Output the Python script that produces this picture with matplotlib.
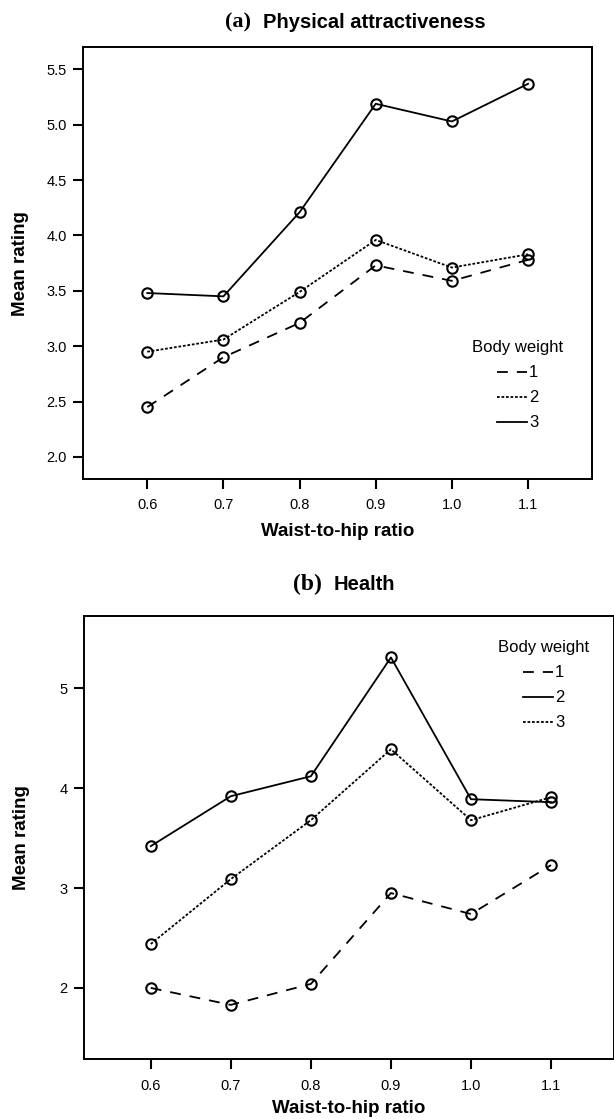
import matplotlib
matplotlib.use("Agg")
import matplotlib.pyplot as plt
from matplotlib.lines import Line2D

plt.rcParams['font.family'] = ['Liberation Sans', 'DejaVu Sans']

whr = [0.6, 0.7, 0.8, 0.9, 1.0, 1.1]
whr_labels = ["0.6", "0.7", "0.8", "0.9", "1.0", "1.1"]

# (a) Physical attractiveness
attr_bw1 = [2.45, 2.90, 3.21, 3.73, 3.59, 3.78]
attr_bw2 = [2.95, 3.06, 3.49, 3.96, 3.71, 3.83]
attr_bw3 = [3.48, 3.45, 4.21, 5.19, 5.03, 5.37]
attr_yticks = [2.0, 2.5, 3.0, 3.5, 4.0, 4.5, 5.0, 5.5]

# (b) Health
health_bw1 = [2.00, 1.83, 2.04, 2.95, 2.74, 3.23]
health_bw2 = [3.42, 3.92, 4.12, 5.31, 3.89, 3.86]
health_bw3 = [2.44, 3.09, 3.68, 4.39, 3.68, 3.91]
health_yticks = [2, 3, 4, 5]

W, H = 614, 1119
fig = plt.figure(figsize=(W / 100, H / 100), dpi=100)

def box(l, t, r, b):
    return [l / W, 1 - b / H, (r - l) / W, (b - t) / H]

ax1 = fig.add_axes(box(83.3, 47.3, 592, 479))
ax2 = fig.add_axes(box(84.3, 616, 613.5, 1059.3))

LW = 1.3
styles = {
    'dash': dict(linestyle=(0, (6, 5)), color='black', linewidth=LW),
    'dot': dict(linestyle=(0, (1.5, 1.0)), color='black', linewidth=LW),
    'solid': dict(linestyle='-', color='black', linewidth=LW),
}
mk = dict(marker='o', markersize=7.5, markerfacecolor='none',
          markeredgecolor='black', markeredgewidth=1.5)

def style_axes(ax, yticks, ylabels, ylim, xlim, ylab_x, xlab_y):
    ax.set_xlim(*xlim)
    ax.set_ylim(*ylim)
    ax.set_xticks(whr)
    ax.set_xticklabels(whr_labels)
    ax.set_yticks(yticks)
    ax.set_yticklabels(ylabels)
    ax.tick_params(direction='out', length=7, width=1.5, labelsize=10.5)
    ax.tick_params(axis='x', pad=7)
    ax.tick_params(axis='y', pad=5)
    for s in ax.spines.values():
        s.set_linewidth(1.4)
    ax.set_ylabel("Mean rating", fontsize=13.5, fontweight='bold')
    ax.set_xlabel("Waist-to-hip ratio", fontsize=13.5, fontweight='bold')
    ax.yaxis.set_label_coords(ylab_x, 0.5)
    ax.xaxis.set_label_coords(0.5, xlab_y)

def leg_handles(kinds):
    return [Line2D([], [], **styles[k]) for k in kinds]

leg_kw = dict(title="Body weight", frameon=False, fontsize=12,
              title_fontsize=12, handlelength=1.75, handletextpad=0.15,
              labelspacing=0.6, borderpad=0, loc='upper left')

# Panel (a)
ax1.plot(whr, attr_bw1, **styles['dash'], **mk)
ax1.plot(whr, attr_bw2, **styles['dot'], **mk)
ax1.plot(whr, attr_bw3, **styles['solid'], **mk)
style_axes(ax1, attr_yticks, [f"{v:.1f}" for v in attr_yticks], (1.8, 5.7),
           (0.516, 1.184), -0.107, -0.102)
leg1 = ax1.legend(leg_handles(['dash', 'dot', 'solid']), ["1", "2", "3"],
                  bbox_to_anchor=((464 - 83.3) / 508.7, (479 - 332) / 431.7),
                  **leg_kw)
leg1._legend_box.align = "center"

# Panel (b)
ax2.plot(whr, health_bw1, **styles['dash'], **mk)
ax2.plot(whr, health_bw2, **styles['solid'], **mk)
ax2.plot(whr, health_bw3, **styles['dot'], **mk)
style_axes(ax2, health_yticks, [str(v) for v in health_yticks], (1.285, 5.725),
           (0.517, 1.178), -0.1026, -0.092)
leg2 = ax2.legend(leg_handles(['dash', 'solid', 'dot']), ["1", "2", "3"],
                  bbox_to_anchor=((490 - 84.3) / 529.2, (1059.3 - 632) / 443.3),
                  **leg_kw)
leg2._legend_box.align = "center"

# Titles
def title(xsplit, y, tag, name, tagsize):
    fig.text((xsplit - 6) / W, 1 - y / H, tag, ha='right', va='center',
             fontsize=tagsize, fontweight='bold', family=['Liberation Serif'])
    fig.text((xsplit + 6) / W, 1 - y / H, name, ha='left', va='center',
             fontsize=14.5, fontweight='bold')

title(257, 22, "(a)", "Physical attractiveness", 16)
title(328, 584, "(b)", "Health", 17)

fig.savefig("out.png", dpi=100)
